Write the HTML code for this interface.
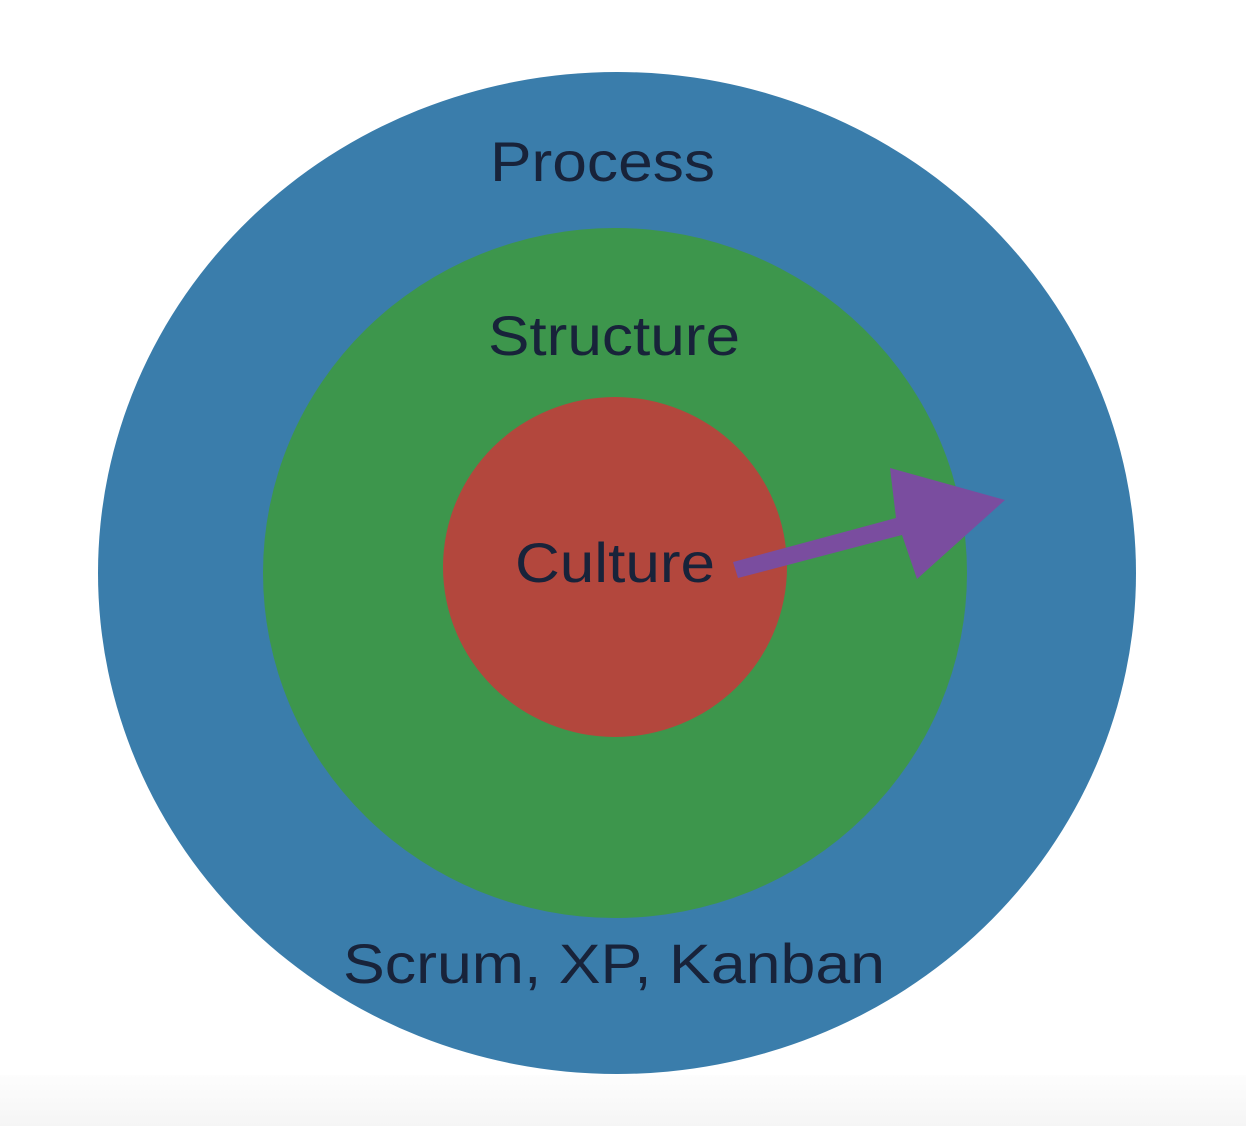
<!DOCTYPE html>
<html><head><style>
html,body{margin:0;padding:0;background:#fff;}
svg{display:block;}
</style></head><body>
<svg width="1246" height="1126" viewBox="0 0 1246 1126" xmlns="http://www.w3.org/2000/svg">
<defs><linearGradient id="g" x1="0" y1="0" x2="0" y2="1"><stop offset="0" stop-color="#fdfdfd"/><stop offset="1" stop-color="#f5f5f5"/></linearGradient></defs>
<rect x="0" y="1075" width="1246" height="51" fill="url(#g)"/>
<ellipse cx="617" cy="573" rx="519" ry="501" fill="#3a7dab"/>
<ellipse cx="615" cy="573" rx="352" ry="345" fill="#3d964c"/>
<ellipse cx="615" cy="567" rx="172" ry="170" fill="#b3473d"/>
<polygon points="733,562 896,518 890,468 1005,500 917,579 902,535 738,578" fill="#7a4d9f"/>
<g font-family="'Liberation Sans', sans-serif" fill="#18233a" font-size="56">
<text x="490" y="181" textLength="225" lengthAdjust="spacingAndGlyphs">Process</text>
<text x="488" y="355" textLength="252" lengthAdjust="spacingAndGlyphs">Structure</text>
<text x="515" y="582" textLength="200" lengthAdjust="spacingAndGlyphs">Culture</text>
<text x="343" y="983" textLength="542" lengthAdjust="spacingAndGlyphs">Scrum, XP, Kanban</text>
</g>
</svg>
</body></html>
